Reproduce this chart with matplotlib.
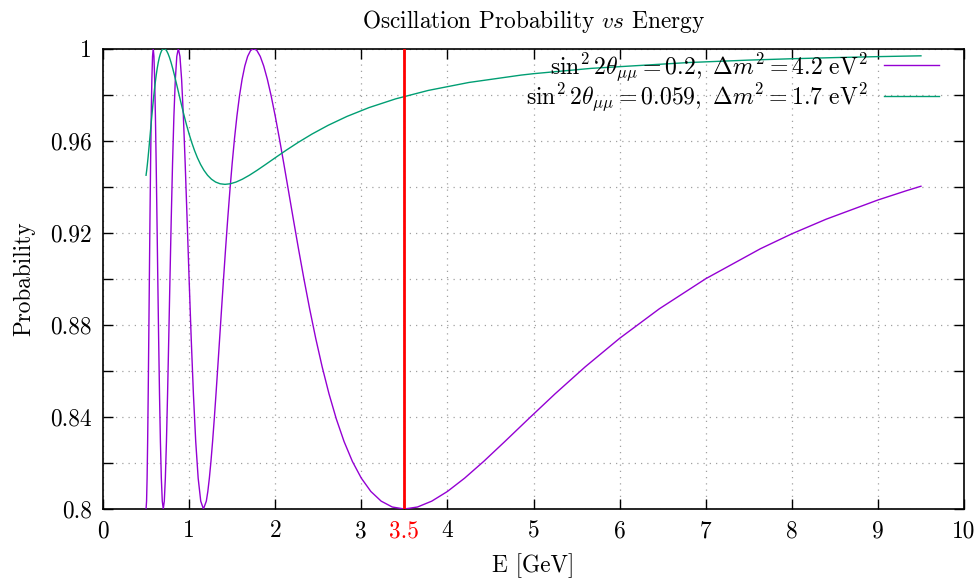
import matplotlib
matplotlib.use("Agg")
import matplotlib.pyplot as plt

plt.rcParams['font.family'] = 'serif'
plt.rcParams['font.serif'] = ['cmr10']
plt.rcParams['mathtext.fontset'] = 'cm'
plt.rcParams['axes.unicode_minus'] = False
plt.rcParams['axes.formatter.use_mathtext'] = True

# ---- data ----
energy_a = [0.5, 0.506024, 0.512195, 0.518519, 0.525, 0.531646, 0.538462, 0.545455,
            0.552632, 0.56, 0.567568, 0.575342, 0.583333, 0.591549, 0.6, 0.608696,
            0.617647, 0.626866, 0.636364, 0.646154, 0.65625, 0.666667, 0.677419,
            0.688525, 0.7, 0.711864, 0.724138, 0.736842, 0.75, 0.763636, 0.777778,
            0.792453, 0.807692, 0.823529, 0.84, 0.857143, 0.875, 0.893617, 0.913043,
            0.933333, 0.954545, 0.976744, 1.0, 1.02439, 1.05, 1.076923, 1.105263,
            1.135135, 1.166667, 1.2, 1.217391, 1.235294, 1.253731, 1.272727,
            1.292308, 1.3125, 1.333333, 1.354839, 1.377049, 1.4, 1.423729, 1.448276,
            1.473684, 1.5, 1.527273, 1.555556, 1.584906, 1.615385, 1.647059, 1.68,
            1.714286, 1.75, 1.787234, 1.826087, 1.866667, 1.909091, 1.953488, 2.0,
            2.04878, 2.1, 2.153846, 2.210526, 2.27027, 2.333333, 2.4, 2.470588,
            2.545455, 2.625, 2.709677, 2.8, 2.896552, 3.0, 3.111111, 3.230769, 3.36,
            3.5, 3.652174, 3.818182, 4.0, 4.2, 4.421053, 4.666667, 4.941176, 5.25,
            5.6, 6.0, 6.461538, 7.0, 7.636364, 8.0, 8.4, 9.0, 9.333333, 9.5]
prob_a = [0.8, 0.80341, 0.81340, 0.82929, 0.85, 0.87412, 0.9, 0.92588,
          0.95, 0.97071, 0.98660, 0.99659, 1.0, 0.99659, 0.98660, 0.97071,
          0.95, 0.92588, 0.9, 0.87412, 0.85, 0.82929, 0.81340,
          0.80341, 0.8, 0.80341, 0.81340, 0.82929, 0.85, 0.87412, 0.9,
          0.92588, 0.95, 0.97071, 0.98660, 0.99659, 1.0, 0.99659, 0.98660,
          0.97071, 0.95, 0.92588, 0.9, 0.87412, 0.85, 0.82929, 0.81340,
          0.80341, 0.8, 0.80341, 0.80761, 0.81340, 0.82066, 0.82929,
          0.83912, 0.85, 0.86173, 0.87412, 0.88695, 0.9, 0.91305, 0.92588,
          0.93827, 0.95, 0.96088, 0.97071, 0.97934, 0.98660, 0.99239, 0.99659,
          0.99914, 1.0, 0.99914, 0.99659, 0.99239, 0.98660, 0.97934, 0.97071,
          0.96088, 0.95, 0.93827, 0.92588, 0.91305, 0.9, 0.88695, 0.87412,
          0.86173, 0.85, 0.83912, 0.82929, 0.82066, 0.81340, 0.80761, 0.80341, 0.80086,
          0.8, 0.80086, 0.80341, 0.80761, 0.81340, 0.82066, 0.82929, 0.83912, 0.85,
          0.86173, 0.87412, 0.88695, 0.9, 0.91305, 0.91951, 0.92588, 0.93420, 0.93827, 0.94018]

energy_b = [0.5, 0.507463, 0.515152, 0.523077, 0.53125, 0.539683, 0.548387, 0.557377,
            0.566667, 0.576271, 0.586207, 0.596491, 0.607143, 0.618182, 0.62963,
            0.641509, 0.653846, 0.666667, 0.68, 0.693878, 0.708333, 0.723404,
            0.73913, 0.755556, 0.772727, 0.790698, 0.809524, 0.829268, 0.85,
            0.871795, 0.894737, 0.918919, 0.944444, 0.971429, 1.0, 1.030303, 1.0625,
            1.096774, 1.133333, 1.172414, 1.214286, 1.259259, 1.307692, 1.36,
            1.416667, 1.478261, 1.545455, 1.619048, 1.7, 1.789474, 1.888889, 2.0,
            2.125, 2.266667, 2.428571, 2.615385, 2.833333, 3.090909, 3.4, 3.777778,
            4.25, 4.857143, 5.0, 5.666667, 6.8, 7.5, 8.0, 8.5, 9.0, 9.5]
prob_b = [0.94495, 0.94710, 0.94964, 0.95254, 0.95575, 0.95921, 0.96287, 0.96665,
          0.9705, 0.97435, 0.97814, 0.98179, 0.98525, 0.98846, 0.99136,
          0.99390, 0.99605, 0.99775, 0.99899, 0.99975, 1.0, 0.99975,
          0.99899, 0.99775, 0.99605, 0.99390, 0.99136, 0.98846, 0.98525,
          0.98179, 0.97814, 0.97435, 0.9705, 0.96665, 0.96287, 0.95921, 0.95575,
          0.95254, 0.94964, 0.94710, 0.94495, 0.94325, 0.94200, 0.94125,
          0.941, 0.94125, 0.94200, 0.94325, 0.94495, 0.94710, 0.94964, 0.95254,
          0.95575, 0.95921, 0.96287, 0.96665, 0.9705, 0.97435, 0.97814, 0.98179,
          0.98525, 0.98846, 0.98906, 0.99136, 0.99390, 0.99496, 0.99555, 0.99605, 0.99647, 0.99682]

label_a = r"$\sin^2 2\theta_{\mu\mu}=0.2,\ \Delta m^2 = 4.2\ \mathrm{eV}^2$"
label_b = r"$\sin^2 2\theta_{\mu\mu}=0.059,\ \Delta m^2 = 1.7\ \mathrm{eV}^2$"
marker_energy = 3.5

x_ticks = [0, 1, 2, 3, 4, 5, 6, 7, 8, 9, 10]
y_ticks = [0.80, 0.82, 0.84, 0.86, 0.88, 0.90, 0.92, 0.94, 0.96, 0.98, 1.00]
y_tick_labels = ["0.8", "", "0.84", "", "0.88", "", "0.92", "", "0.96", "", "1"]

FS = 16.8
fig = plt.figure(figsize=(9.77, 5.79), dpi=100)
ax = fig.add_axes([103/977, 1 - 509/579, (964-103)/977, (509-48.5)/579])

ax.plot(energy_a, prob_a, color='#9400d3', lw=1.0, label=label_a, zorder=3)
ax.plot(energy_b, prob_b, color='#009e73', lw=1.0, label=label_b, zorder=3)
ax.axvline(marker_energy, color='#ff0000', lw=2.0, zorder=4)

ax.set_xlim(0, 10)
ax.set_ylim(0.8, 1.0)
ax.set_xticks(x_ticks + [marker_energy])
ax.set_xticklabels([str(v) for v in x_ticks] + [str(marker_energy)])
for lab in ax.get_xticklabels():
    if lab.get_text() == str(marker_energy):
        lab.set_color('#ff0000')
ax.set_yticks(y_ticks)
ax.set_yticklabels(y_tick_labels)

ax.tick_params(direction='in', length=7, width=1.0, top=True, right=True,
               labelsize=FS, pad=8)
ax.grid(True, color='#a0a0a0', linestyle=(0, (1, 4)), linewidth=0.9)
for s in ax.spines.values():
    s.set_linewidth(1.2)

ax.set_title(r"Oscillation Probability $vs$ Energy", fontsize=FS, pad=15)
ax.set_xlabel("E [GeV]", fontsize=FS, labelpad=8)
ax.set_ylabel("Probability", fontsize=FS, labelpad=11)

ax.legend(loc='upper right', markerfirst=False, frameon=False, fontsize=17.1,
          handlelength=2.3, handletextpad=0.7, labelspacing=-0.05,
          borderaxespad=0.0, bbox_to_anchor=(0.982, 1.015))

fig.savefig("out.png", dpi=100)
